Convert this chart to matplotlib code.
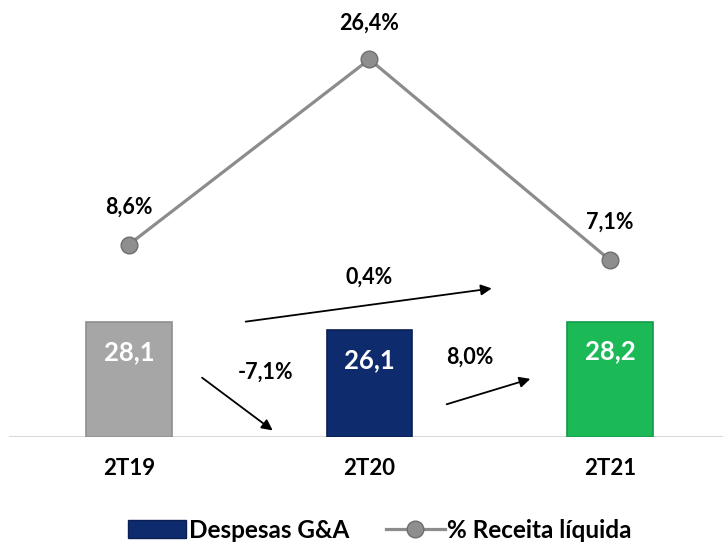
import matplotlib.pyplot as plt
from matplotlib.lines import Line2D
from matplotlib.patches import Patch

categories = ["2T19", "2T20", "2T21"]
despesas = [28.1, 26.1, 28.2]
receita_pct = [8.6, 26.4, 7.1]
bar_colors = ["#a6a6a6", "#0e2b6e", "#1cba57"]
bar_edges = ["#8f8f8f", "#0a1f52", "#14994a"]
var_labels = ["-7,1%", "8,0%", "0,4%"]


def fmt(v):
    return ("%.1f" % v).replace(".", ",")


plt.rcParams['font.family'] = ['Lato', 'DejaVu Sans']

fig = plt.figure(figsize=(7.23, 5.48), dpi=100)
ax = fig.add_axes([0, 111 / 548, 1, 437 / 548])
x = list(range(len(categories)))

ax.bar(x, despesas, width=0.357, color=bar_colors, edgecolor=bar_edges, linewidth=1.2, zorder=2)
for xi, v in zip(x, despesas):
    ax.text(xi, v - 7.3, fmt(v), ha="center", va="center", color="white",
            fontsize=18.5, fontweight="bold", zorder=3)

ax.set_xlim(-0.536, 2.47)
ax.set_ylim(0, 106.8)
ax.axhline(0, xmin=10 / 723, xmax=1, color="#d9d9d9", lw=1.5, zorder=1)
for s in ax.spines.values():
    s.set_visible(False)
ax.set_yticks([])
ax.set_xticks(x)
ax.set_xticklabels(categories, fontsize=16, fontweight="bold")
ax.tick_params(axis="x", length=0, pad=15)

# setas de variacao
arrow_kw = dict(arrowstyle="-|>", color="black", lw=1.3, mutation_scale=16)
ax.annotate("", xy=(0.607, 1.2), xytext=(0.295, 14.9), arrowprops=arrow_kw)
ax.annotate("", xy=(1.68, 14.4), xytext=(1.31, 7.8), arrowprops=arrow_kw)
ax.annotate("", xy=(1.52, 36.4), xytext=(0.474, 28.1), arrowprops=arrow_kw)
ax.text(0.57, 15.9, var_labels[0], ha="center", va="center", fontsize=15.5, fontweight="bold")
ax.text(1.418, 19.6, var_labels[1], ha="center", va="center", fontsize=15.5, fontweight="bold")
ax.text(1.0, 39.1, var_labels[2], ha="center", va="center", fontsize=15.5, fontweight="bold")

ax2 = ax.twinx()
ax2.set_ylim(-9.9, 32.1)
ax2.plot(x, receita_pct, color="#8c8c8c", lw=2.3, marker="o", markersize=12,
         markerfacecolor="#8e8e8e", markeredgecolor="#6e6e6e", markeredgewidth=1, zorder=4)
offsets = [(0, 37), (0, 36), (0, 38)]
for xi, v, off in zip(x, receita_pct, offsets):
    ax2.annotate(fmt(v) + "%", (xi, v), xytext=off, textcoords="offset pixels",
                 ha="center", va="center", fontsize=15.5, fontweight="bold")
ax2.set_yticks([])
for s in ax2.spines.values():
    s.set_visible(False)

handles = [Patch(facecolor=bar_colors[1], edgecolor=bar_edges[1]),
           Line2D([0], [0], color="#8c8c8c", lw=2.3, marker="o", markersize=12,
                  markerfacecolor="#8e8e8e", markeredgecolor="#6e6e6e")]
leg = fig.legend(handles, ["Despesas G&A", "% Receita líquida"], loc="center",
                 bbox_to_anchor=(380 / 723, 18 / 548), ncol=2, frameon=False,
                 prop={"size": 17.5, "weight": "bold"}, handlelength=2.4,
                 handletextpad=0.12, columnspacing=1.5)

fig.savefig("out.png", dpi=100)
